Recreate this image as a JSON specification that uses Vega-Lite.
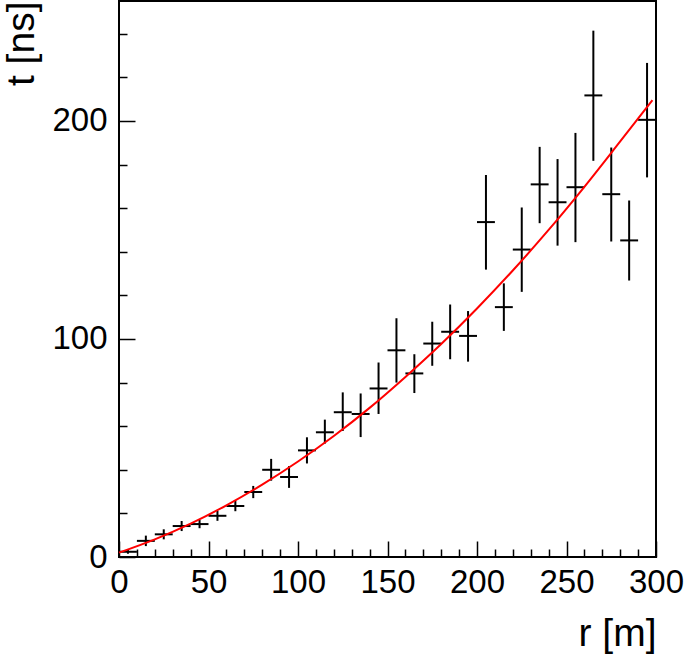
{
  "$schema": "https://vega.github.io/schema/vega-lite/v6.json",
  "width": 537,
  "height": 556,
  "autosize": {"type": "none"},
  "padding": {"left": 119, "top": 1, "right": 29, "bottom": 98},
  "background": "white",
  "config": {
    "view": {"stroke": "black", "strokeWidth": 2},
    "font": "Liberation Sans",
    "axis": {
      "domain": false,
      "grid": false,
      "labelFlush": false,
      "labelOverlap": false,
      "labelFont": "Liberation Sans",
      "titleFont": "Liberation Sans",
      "labelColor": "black",
      "titleColor": "black",
      "tickColor": "black",
      "tickWidth": 1.5,
      "labelFontSize": 33,
      "titleFontSize": 39,
      "titleFontWeight": "normal"
    }
  },
  "datasets": {
    "pts": [
      {"r": 5, "rlo": 0, "rhi": 10, "t": 2.4, "tlo": 1.5, "thi": 3.3},
      {"r": 15, "rlo": 10, "rhi": 20, "t": 7.4, "tlo": 5.0, "thi": 9.8},
      {"r": 25, "rlo": 20, "rhi": 30, "t": 10.4, "tlo": 8.1, "thi": 12.7},
      {"r": 35, "rlo": 30, "rhi": 40, "t": 14.2, "tlo": 11.9, "thi": 16.5},
      {"r": 45, "rlo": 40, "rhi": 50, "t": 15.1, "tlo": 13.2, "thi": 17.0},
      {"r": 55, "rlo": 50, "rhi": 60, "t": 18.9, "tlo": 16.6, "thi": 21.2},
      {"r": 65, "rlo": 60, "rhi": 70, "t": 23.4, "tlo": 21.0, "thi": 25.8},
      {"r": 75, "rlo": 70, "rhi": 80, "t": 29.8, "tlo": 27.0, "thi": 32.6},
      {"r": 85, "rlo": 80, "rhi": 90, "t": 40.0, "tlo": 35.0, "thi": 45.0},
      {"r": 95, "rlo": 90, "rhi": 100, "t": 36.7, "tlo": 31.7, "thi": 41.7},
      {"r": 105, "rlo": 100, "rhi": 110, "t": 48.9, "tlo": 42.9, "thi": 54.9},
      {"r": 115, "rlo": 110, "rhi": 120, "t": 57.2, "tlo": 52.0, "thi": 63.0},
      {"r": 125, "rlo": 120, "rhi": 130, "t": 66.4, "tlo": 57.8, "thi": 75.5},
      {"r": 135, "rlo": 130, "rhi": 140, "t": 65.6, "tlo": 55.0, "thi": 75.0},
      {"r": 145, "rlo": 140, "rhi": 150, "t": 77.3, "tlo": 65.6, "thi": 89.2},
      {"r": 155, "rlo": 150, "rhi": 160, "t": 94.8, "tlo": 80.0, "thi": 109.5},
      {"r": 165, "rlo": 160, "rhi": 170, "t": 84.2, "tlo": 75.2, "thi": 93.0},
      {"r": 175, "rlo": 170, "rhi": 180, "t": 97.9, "tlo": 87.7, "thi": 107.9},
      {"r": 185, "rlo": 180, "rhi": 190, "t": 103.3, "tlo": 90.7, "thi": 115.8},
      {"r": 195, "rlo": 190, "rhi": 200, "t": 101.4, "tlo": 89.6, "thi": 112.8},
      {"r": 205, "rlo": 200, "rhi": 210, "t": 153.6, "tlo": 131.8, "thi": 175.2},
      {"r": 215, "rlo": 210, "rhi": 220, "t": 114.6, "tlo": 103.7, "thi": 125.5},
      {"r": 225, "rlo": 220, "rhi": 230, "t": 141.0, "tlo": 121.6, "thi": 160.3},
      {"r": 235, "rlo": 230, "rhi": 240, "t": 170.9, "tlo": 153.1, "thi": 188.1},
      {"r": 245, "rlo": 240, "rhi": 250, "t": 162.7, "tlo": 142.8, "thi": 182.5},
      {"r": 255, "rlo": 250, "rhi": 260, "t": 169.6, "tlo": 144.4, "thi": 194.5},
      {"r": 265, "rlo": 260, "rhi": 270, "t": 211.7, "tlo": 181.7, "thi": 241.4},
      {"r": 275, "rlo": 270, "rhi": 280, "t": 166.4, "tlo": 144.7, "thi": 187.8},
      {"r": 285, "rlo": 280, "rhi": 290, "t": 145.2, "tlo": 126.8, "thi": 163.5},
      {"r": 295, "rlo": 290, "rhi": 300, "t": 200.5, "tlo": 174.1, "thi": 226.6}
    ],
    "curve": [
      {"r": 0, "t": 2.0},
      {"r": 20, "t": 8.1},
      {"r": 40, "t": 15.3},
      {"r": 60, "t": 23.7},
      {"r": 80, "t": 33.2},
      {"r": 100, "t": 43.8},
      {"r": 120, "t": 55.5},
      {"r": 140, "t": 68.4},
      {"r": 160, "t": 82.6},
      {"r": 180, "t": 97.7},
      {"r": 200, "t": 114.0},
      {"r": 220, "t": 131.4},
      {"r": 240, "t": 150.0},
      {"r": 260, "t": 169.8},
      {"r": 280, "t": 190.6},
      {"r": 298, "t": 209.5}
    ]
  },
  "layer": [
    {
      "data": {"name": "pts"},
      "mark": {"type": "rule", "color": "black", "strokeWidth": 2},
      "encoding": {
        "x": {
          "field": "r", "type": "quantitative",
          "scale": {"domain": [0, 300], "nice": false, "zero": false},
          "axis": {"orient": "bottom", "values": [10,20,30,40,60,70,80,90,110,120,130,140,160,170,180,190,210,220,230,240,260,270,280,290], "tickSize": -8, "labels": false, "title": null}
        },
        "y": {
          "field": "tlo", "type": "quantitative",
          "scale": {"domain": [0, 255], "nice": false, "zero": false},
          "axis": {"orient": "left", "values": [20,40,60,80,120,140,160,180,220,240], "tickSize": -8, "labels": false, "title": null}
        },
        "y2": {"field": "thi"}
      }
    },
    {
      "data": {"name": "pts"},
      "mark": {"type": "rule", "color": "black", "strokeWidth": 2},
      "encoding": {
        "x": {
          "field": "rlo", "type": "quantitative",
          "axis": {"orient": "bottom", "values": [0,50,100,150,200,250,300], "tickSize": -16, "labelPadding": 25, "title": "r [m]", "titleAnchor": "end", "titleAlign": "right", "titleX": 537, "titleY": 88, "titleBaseline": "alphabetic"}
        },
        "x2": {"field": "rhi"},
        "y": {
          "field": "t", "type": "quantitative",
          "axis": {"orient": "left", "values": [0,100,200], "tickSize": -16, "labelPadding": 28, "title": "t [ns]", "titleAnchor": "end", "titleAlign": "right", "titleAngle": -90, "titleX": -98, "titleY": 0, "titleBaseline": "middle"}
        }
      }
    },
    {
      "data": {"name": "curve"},
      "mark": {"type": "line", "color": "#ff0000", "strokeWidth": 2, "interpolate": "monotone"},
      "encoding": {
        "x": {"field": "r", "type": "quantitative", "axis": null},
        "y": {"field": "t", "type": "quantitative", "axis": null}
      }
    }
  ],
  "resolve": {"axis": {"x": "independent", "y": "independent"}}
}
